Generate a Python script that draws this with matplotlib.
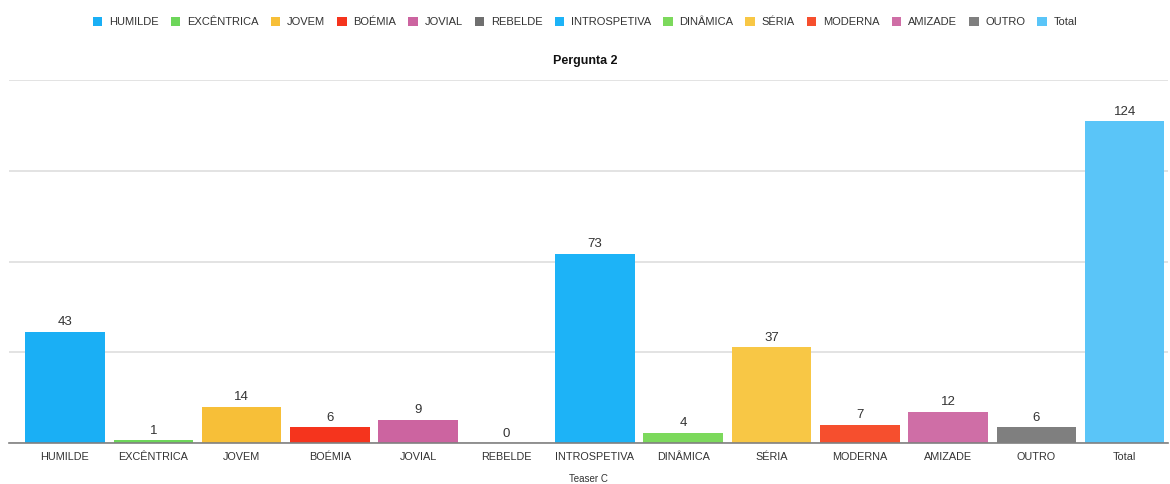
import matplotlib
matplotlib.use("Agg")
import matplotlib.pyplot as plt
from matplotlib.patches import Patch

plt.rcParams['font.family'] = ['Liberation Sans', 'DejaVu Sans']

categories = ["HUMILDE", "EXCÊNTRICA", "JOVEM", "BOÉMIA", "JOVIAL", "REBELDE",
              "INTROSPETIVA", "DINÂMICA", "SÉRIA", "MODERNA", "AMIZADE", "OUTRO", "Total"]
values = [43, 1, 14, 6, 9, 0, 73, 4, 37, 7, 12, 6, 124]
colors = ["#1aaff5", "#6dd65a", "#f7bf38", "#f5341d", "#cc64a0", "#6f6f6f",
          "#1db3f7", "#7cd95c", "#f8c745", "#f64f2e", "#cf6ea6", "#7f7f7f", "#5ac5f8"]
title = "Pergunta 2"
x_label = "Teaser C"
y_ticks = [0, 35, 70, 105, 140]

fig = plt.figure(figsize=(11.7, 4.84), dpi=100)
ax = fig.add_axes([9 / 1170, 1 - 443 / 484, 1159 / 1170, 363 / 484])

xs = list(range(len(categories)))
bars = ax.bar(xs, values, width=0.9, color=colors, zorder=3)
for b, v in zip(bars, values):
    ax.annotate(str(v), (b.get_x() + b.get_width() / 2, v), xytext=(0, 2.5),
                textcoords="offset points", ha="center", va="bottom",
                fontsize=9.5, color="#333333")

ax.set_xlim(-0.634, 12.49)
ax.set_ylim(0, 140)
ax.set_yticks(y_ticks)
ax.yaxis.grid(True, color="#dedede", linewidth=1.2, zorder=0)
ax.tick_params(axis="y", left=False, labelleft=False)
ax.set_xticks(xs)
ax.set_xticklabels(categories, fontsize=7.8, color="#333333")
ax.tick_params(axis="x", length=0, pad=6.5)
for s in ["top", "right", "left"]:
    ax.spines[s].set_visible(False)
ax.spines["bottom"].set_color("#808080")
ax.spines["bottom"].set_linewidth(1.2)
ax.spines["bottom"].set_zorder(4)

ax.set_xlabel(x_label, fontsize=7, color="#333333", labelpad=8.5)
fig.text(0.5, 1 - 61 / 484, title, ha="center", va="center",
         fontsize=9, fontweight="bold", color="#111111")

handles = [Patch(facecolor=c, edgecolor="none") for c in colors]
fig.legend(handles, categories, loc="center", bbox_to_anchor=(0.5, 1 - 22 / 484),
           ncol=len(categories), frameon=False, fontsize=8,
           handlelength=0.85, handleheight=0.85, handletextpad=0.6,
           columnspacing=1.1, labelcolor="#333333")

fig.savefig("out.png", dpi=100)
